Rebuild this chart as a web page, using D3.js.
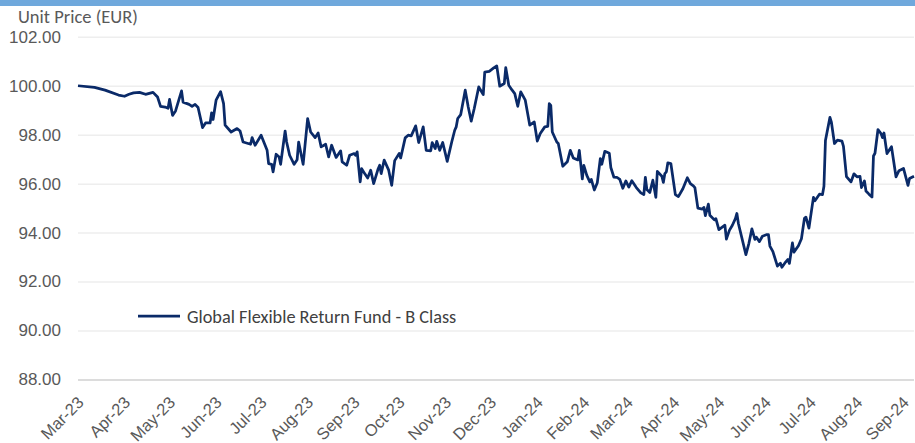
<!DOCTYPE html>
<html>
<head>
<meta charset="utf-8">
<script src="https://cdn.jsdelivr.net/npm/d3@7"></script>
<style>
  body { margin: 0; background: #fff; }
  svg { display: block; font-family: Calibri, Carlito, "Open Sans", sans-serif; }
</style>
</head>
<body>
<div id="chart"></div>
<script>
const W = 915, H = 443;
const margin = { top: 36.8, right: 1, bottom: 63.6, left: 78 };

// days counted from 1 Mar 2023, unit price in EUR
const startDate = new Date(2023, 2, 1);
const dayOffsets = [
  0, 11, 18, 27, 31, 34, 37, 41, 45, 50, 53, 55, 58, 60, 61, 63, 65, 69, 70, 74,
  76, 78, 80, 83, 85, 88, 89, 90, 92, 95, 97, 98, 101, 102, 106, 108, 110, 115, 116, 118,
  122, 126, 127, 129, 130, 132, 134, 135, 138, 139, 141, 144, 146, 147, 150, 153, 155, 158, 160, 162,
  165, 167, 169, 171, 172, 175, 176, 179, 181, 184, 185, 186, 188, 189, 191, 193, 195, 197, 200, 201,
  202, 204, 207, 209, 211, 214, 215, 218, 220, 222, 225, 227, 230, 232, 235, 236, 238, 239, 241, 243,
  246, 249, 251, 252, 253, 255, 258, 260, 262, 264, 267, 270, 271, 274, 277, 279, 281, 284, 285, 287,
  289, 291, 293, 295, 298, 301, 304, 306, 308, 311, 313, 314, 315, 316, 319, 320, 323, 326, 328, 330,
  333, 334, 336, 337, 339, 341, 342, 344, 346, 348, 349, 351, 354, 355, 357, 359, 361, 363, 365, 367,
  369, 372, 375, 377, 378, 379, 381, 383, 385, 386, 389, 390, 391, 392, 393, 395, 398, 400, 403, 406,
  408, 410, 411, 413, 416, 417, 418, 420, 421, 424, 425, 427, 429, 431, 432, 434, 436, 438, 439, 440,
  445, 447, 449, 451, 452, 454, 456, 459, 460, 461, 463, 466, 468, 469, 471, 473, 474, 476, 477, 480,
  482, 484, 485, 487, 490, 491, 494, 496, 497, 498, 501, 502, 504, 506, 509, 510, 512, 515, 517, 519,
  521, 522, 524, 525, 527, 529, 530, 531, 533, 535, 536, 537, 539, 542, 545, 547, 550, 553, 554, 557
];
const prices = [
  100.00, 99.93, 99.82, 99.62, 99.57, 99.65, 99.71, 99.73, 99.65, 99.73, 99.54, 99.16, 99.13, 99.08, 99.44, 98.79, 98.97, 99.79, 99.33, 99.24,
  99.16, 99.24, 99.11, 98.29, 98.48, 98.48, 98.89, 98.62, 99.41, 99.76, 99.27, 98.39, 98.18, 98.11, 98.25, 98.15, 97.70, 97.61, 97.88, 97.57,
  97.98, 97.36, 96.82, 96.79, 96.48, 97.20, 97.09, 96.79, 98.15, 97.70, 97.16, 96.79, 96.98, 97.70, 96.79, 98.66, 98.11, 97.88, 98.07, 97.50,
  97.61, 97.09, 97.57, 97.23, 97.07, 97.34, 96.89, 96.75, 97.16, 97.23, 97.16, 97.30, 96.07, 96.61, 96.41, 96.23, 96.55, 96.00, 96.61, 96.75,
  96.41, 96.96, 96.55, 95.93, 96.94, 97.23, 97.05, 97.87, 97.98, 97.95, 98.36, 97.68, 98.32, 97.36, 97.34, 97.68, 97.43, 97.73, 97.36, 97.68,
  96.91, 97.70, 98.18, 98.32, 98.66, 98.82, 99.82, 99.13, 98.55, 99.07, 99.95, 99.64, 100.56, 100.59, 100.73, 100.81, 99.98, 100.09, 100.74, 100.02,
  99.84, 99.68, 99.16, 99.75, 99.41, 98.39, 98.52, 97.74, 98.05, 98.32, 98.34, 99.27, 99.20, 98.11, 97.70, 97.64, 96.71, 96.89, 97.36, 97.05,
  96.97, 97.36, 96.19, 96.75, 96.34, 96.07, 96.17, 95.74, 96.04, 97.02, 96.79, 97.32, 97.24, 96.66, 96.27, 96.26, 96.17, 95.81, 96.11, 95.86,
  96.12, 95.84, 95.62, 95.55, 96.26, 95.76, 95.64, 96.14, 95.44, 96.50, 96.30, 96.05, 96.41, 96.48, 96.85, 96.82, 95.55, 95.47, 95.79, 96.24,
  96.00, 95.91, 95.84, 95.00, 94.96, 95.03, 94.69, 95.16, 94.71, 94.52, 94.57, 94.12, 94.21, 94.30, 93.73, 94.09, 94.30, 94.57, 94.78, 94.37,
  93.10, 93.56, 94.15, 93.72, 93.81, 93.63, 93.85, 93.92, 93.92, 93.45, 93.22, 92.63, 92.75, 92.58, 92.76, 92.90, 92.74, 93.58, 93.20, 93.46,
  93.75, 94.58, 94.63, 94.18, 95.44, 95.30, 95.57, 95.55, 95.89, 97.76, 98.71, 98.50, 97.64, 97.78, 97.74, 97.52, 96.29, 96.07, 96.40, 96.28,
  96.30, 95.84, 96.11, 95.70, 95.57, 95.45, 97.13, 97.24, 98.21, 98.05, 97.88, 98.07, 97.23, 97.51, 96.28, 96.53, 96.62, 95.93, 96.21, 96.30
];
const yTicks = [88, 90, 92, 94, 96, 98, 100, 102];
const seriesName = "Global Flexible Return Fund - B Class";
const yTitle = "Unit Price (EUR)";

const data = dayOffsets.map((d, i) => ({
  date: d3.timeDay.offset(startDate, d),
  price: prices[i]
}));
const endDate = data[data.length - 1].date;
const monthTicks = d3.timeMonth.range(startDate, d3.timeDay.offset(endDate, 1));

const svg = d3.select("#chart")
  .append("svg")
  .attr("width", W)
  .attr("height", H);

// blue strip at the very top
svg.append("rect")
  .attr("x", 0).attr("y", 0)
  .attr("width", W).attr("height", 6)
  .attr("fill", "#6fa8dc");

const x = d3.scaleTime()
  .domain([startDate, endDate])
  .range([margin.left, W - margin.right]);

const y = d3.scaleLinear()
  .domain([88, 102])
  .range([H - margin.bottom, margin.top]);

// gridlines + y labels
const yAxis = svg.append("g")
  .attr("transform", `translate(${margin.left},0)`)
  .call(d3.axisLeft(y)
    .tickValues(yTicks)
    .tickFormat(d3.format(".2f"))
    .tickSize(-(W - margin.right - margin.left))
    .tickPadding(17));
yAxis.select(".domain").remove();
yAxis.selectAll(".tick line")
  .attr("stroke", d => d === 88 ? "#d0d0d0" : "#eeeeee")
  .attr("stroke-width", 1.5);
yAxis.selectAll(".tick text")
  .attr("fill", "#595959")
  .style("font-size", "17px");

// x labels, rotated
const xAxis = svg.append("g")
  .attr("transform", `translate(0,${H - margin.bottom})`)
  .call(d3.axisBottom(x)
    .tickValues(monthTicks)
    .tickFormat(d3.timeFormat("%b-%y"))
    .tickSize(0));
xAxis.select(".domain").remove();
xAxis.selectAll(".tick text")
  .attr("fill", "#595959")
  .style("font-size", "16.5px")
  .attr("text-anchor", "end")
  .attr("dx", 0)
  .attr("dy", 0)
  .attr("transform", "translate(4,22) rotate(-45)");

// y title
svg.append("text")
  .attr("x", 18)
  .attr("y", 23)
  .attr("fill", "#595959")
  .style("font-size", "18.5px")
  .text(yTitle);

// price line
const line = d3.line()
  .x(d => x(d.date))
  .y(d => y(d.price));

svg.append("path")
  .datum(data)
  .attr("fill", "none")
  .attr("stroke", "#0a2a68")
  .attr("stroke-width", 2.75)
  .attr("stroke-linejoin", "round")
  .attr("d", line);

// legend
const legend = svg.append("g").attr("transform", "translate(138,316)");
legend.append("line")
  .attr("x1", 0).attr("x2", 42)
  .attr("y1", 0).attr("y2", 0)
  .attr("stroke", "#0a2a68")
  .attr("stroke-width", 2.75);
legend.append("text")
  .attr("x", 49)
  .attr("y", 6.5)
  .attr("fill", "#404040")
  .style("font-size", "18.3px")
  .text(seriesName);
</script>
</body>
</html>
